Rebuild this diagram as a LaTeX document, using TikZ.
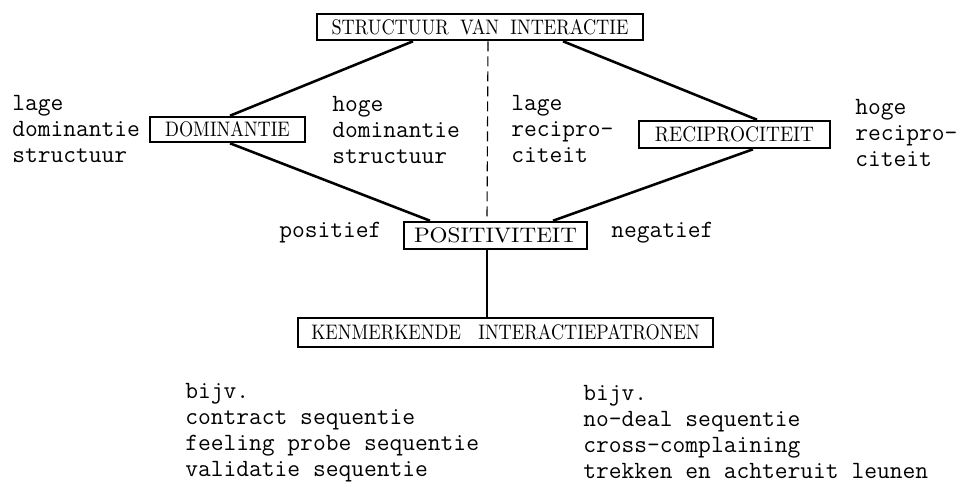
\documentclass[tikz,border=0pt]{standalone}
\usepackage{fontspec}
\usepackage{graphicx}
\usetikzlibrary{positioning}
\usetikzlibrary{calc}

\newcommand{\capsfont}{\fontsize{10.5}{12}\selectfont\spaceskip=6.5pt\relax}
\newcommand{\caps}[2][0.87]{\scalebox{#1}[1]{#2}}
\newcommand{\typefont}{\ttfamily\fontsize{12.4}{13}\selectfont}

\tikzset{
  conceptbox/.style={draw, line width=0.45mm, inner sep=0pt, font=\capsfont},
  remark/.style={font=\typefont, align=left, anchor=base west, inner sep=0pt},
}

\begin{document}
\begin{tikzpicture}[x=0.5pt,y=-0.5pt,line width=0.45mm]

  \useasboundingbox (0,0) rectangle (958,483);

  % the five concepts
  \node[conceptbox, minimum width=163pt,   minimum height=13pt]   (structuur) at (480,27)    {\caps{STRUCTUUR VAN INTERACTIE}};
  \node[conceptbox, minimum width=77.5pt,  minimum height=12.5pt] (dominantie) at (227.5,129.5) {\caps{DOMINANTIE}};
  \node[conceptbox, minimum width=95.5pt,  minimum height=13.5pt] (reciprociteit) at (734.5,134.5) {\caps[0.92]{RECIPROCITEIT}};
  \node[conceptbox, minimum width=91.5pt,  minimum height=13.5pt] (positiviteit) at (495.5,235.5) {\caps[1.1]{POSITIVITEIT}};
  \node[conceptbox, minimum width=207.5pt, minimum height=14.5pt] (patronen) at (505.5,332.5) {\caps{KENMERKENDE\hspace{10pt}INTERACTIEPATRONEN}};

  % connections
  \draw ([xshift=-33.5pt]structuur.south) -- ([xshift=1.25pt]dominantie.north);
  \draw ([xshift=41.5pt]structuur.south) -- ([xshift=11.25pt]reciprociteit.north);
  \draw ([xshift=1.25pt]dominantie.south) -- ([xshift=-32.75pt]positiviteit.north);
  \draw ([xshift=9.25pt]reciprociteit.south) -- ([xshift=28.75pt]positiviteit.north);
  \draw[line width=0.3mm] ([xshift=-4.25pt]positiviteit.south) -- ([xshift=-9.25pt]patronen.north);
  \draw[line width=0.2mm, dash pattern=on 5pt off 2.5pt] ([xshift=4pt]structuur.south) -- ([xshift=-4.25pt]positiviteit.north);

  % poles (anchored at the baseline of the last line)
  \node[remark] (lagedom) at (11,162)  {lage\\dominantie\\structuur};
  \node[remark] (hogedom) at (331,163) {hoge\\dominantie\\structuur};
  \node[remark] (lagerec) at (510,162) {lage\\recipro-\\citeit};
  \node[remark] (hogerec) at (854,166) {hoge\\recipro-\\citeit};
  \node[remark] (positief) at (278,237) {positief};
  \node[remark] (negatief) at (610,237) {negatief};

  % examples
  \node[remark] (voorbeeldpos) at (184,476) {bijv.\\contract sequentie\\feeling probe sequentie\\validatie sequentie};
  \node[remark] (voorbeeldneg) at (582,478) {bijv.\\no-deal sequentie\\cross-complaining\\trekken en achteruit leunen};

\end{tikzpicture}
\end{document}
